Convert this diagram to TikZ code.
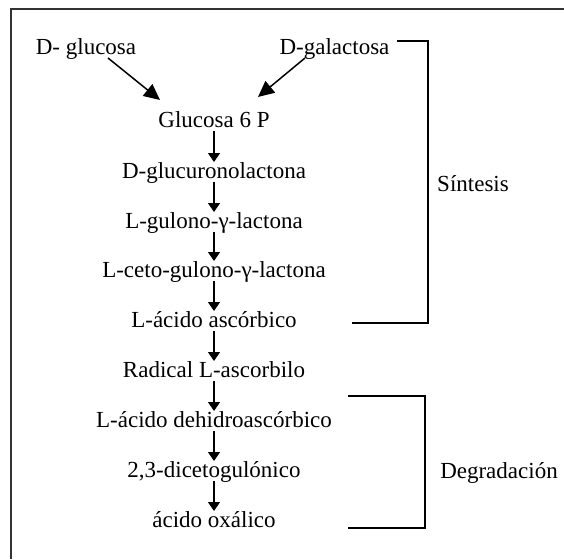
\documentclass[tikz,border=0pt]{standalone}
\usepackage{fontspec}
\setmainfont{Liberation Serif}
\usetikzlibrary{arrows.meta}
\begin{document}
\begin{tikzpicture}[x=1pt,y=-1pt,
  lbl/.style={inner sep=0pt, anchor=base, font=\fontsize{23}{27}\selectfont},
  arr/.style={line width=1.3pt, -{Triangle[width=12pt,length=9pt]}},
  bigarr/.style={line width=1.5pt, -{Triangle[width=15pt,length=16pt]}},
  brk/.style={line width=2.2pt},
  frameline/.style={line width=1.5pt, black!80}]
\useasboundingbox (0,0) rectangle (564,559);
% frame (only top and left edges visible)
\coordinate (fbl) at (11,559);
\coordinate (ftl) at (11,9);
\coordinate (ftr) at (564,9);
\draw[frameline] (fbl) -- (ftl) -- (ftr);
% nodes
\node[lbl] (glc) at (86,55) {D- glucosa};
\node[lbl] (gal) at (334.5,55) {D-galactosa};
\node[lbl] (g6p) at (214,127) {Glucosa 6 P};
\node[lbl] (dgl) at (214,178) {D-glucuronolactona};
\node[lbl] (lgu) at (214,228) {L-gulono-γ-lactona};
\node[lbl] (lce) at (214,277) {L-ceto-gulono-γ-lactona};
\node[lbl] (laa) at (214,327) {L-ácido ascórbico};
\node[lbl] (rad) at (214,377) {Radical L-ascorbilo};
\node[lbl] (dha) at (214,427) {L-ácido dehidroascórbico};
\node[lbl] (dik) at (214,477) {2,3-dicetogulónico};
\node[lbl] (oxa) at (214,527) {ácido oxálico};
\node[lbl] (sin) at (473,191) {Síntesis};
\node[lbl] (deg) at (499,478) {Degradación};
% diagonal arrows
\draw[bigarr] ([xshift=22pt,yshift=-3pt]glc.base) -- ([xshift=-54pt,yshift=27pt]g6p.base);
\draw[bigarr] ([xshift=-29.5pt,yshift=-3pt]gal.base) -- ([xshift=44pt,yshift=30pt]g6p.base);
% vertical arrows
\foreach \a/\b in {g6p/dgl, dgl/lgu, lgu/lce, lce/laa, laa/rad, rad/dha, dha/dik, dik/oxa}
  \draw[arr] ([yshift=-4pt]\a.base) -- ([yshift=16pt]\b.base);
% brackets
\coordinate (s1) at (397,41);
\coordinate (s2) at (428,41);
\coordinate (s3) at (428,323);
\coordinate (s4) at (352,323);
\draw[brk] (s1) -- (s2) -- (s3) -- (s4);
\coordinate (d1) at (348,396);
\coordinate (d2) at (425,396);
\coordinate (d3) at (425,528);
\coordinate (d4) at (348,528);
\draw[brk] (d1) -- (d2) -- (d3) -- (d4);
\end{tikzpicture}
\end{document}
